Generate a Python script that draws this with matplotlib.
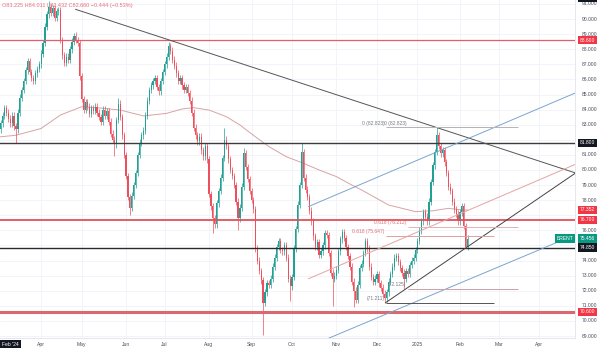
import pandas as pd
import matplotlib
matplotlib.use("Agg")
import matplotlib.pyplot as plt

# daily closes, 29 Feb 2024 .. 7 Feb 2025
closes = [
    83.1, 83.6, 84.1, 83.8, 83.4, 83.1, 83.6, 82.9, 82.7, 83.8,
    84.8, 85.3, 85.9, 86.6, 87.2, 86.5, 86.1, 85.9, 86.4, 86.7,
    87.0, 87.7, 88.4, 89.5, 90.3, 90.8, 90.4, 90.7, 90.1, 90.5,
    90.6, 88.6, 87.6, 87.1, 87.5, 87.3, 88.0, 88.5, 88.9, 88.6,
    88.4, 86.2, 84.7, 84.0, 84.5, 84.2, 83.7, 84.1, 83.9, 84.2,
    83.8, 83.5, 83.2, 84.0, 83.6, 83.9, 83.2, 82.4, 82.0, 81.7,
    83.3, 84.4, 83.5, 82.3, 81.0, 79.6, 78.2, 77.5, 78.3, 79.0,
    79.8, 81.0, 81.8, 82.3, 82.6, 83.6, 84.6, 85.3, 85.6, 85.9,
    86.1, 85.5, 85.2, 85.9, 86.5, 87.0, 87.5, 88.2, 87.9, 87.3,
    86.9, 86.4, 85.9, 86.1, 85.6, 85.3, 85.5, 85.1, 84.6, 83.8,
    82.8, 82.3, 81.9, 82.2, 81.3, 80.9, 81.6, 80.7, 78.4, 77.6,
    76.8, 76.4, 77.8, 78.6, 79.5, 80.8, 82.0, 81.6, 80.7, 80.0,
    79.6, 79.0, 77.9, 76.8, 77.5, 78.9, 81.1, 80.2, 79.4, 78.6,
    78.0, 77.4, 74.8, 74.0, 73.3, 72.7, 71.2, 71.9, 72.5, 72.4,
    72.8, 73.6, 74.2, 74.9, 75.3, 74.7, 74.6, 75.0, 74.2, 72.8,
    72.3, 72.9, 74.8, 76.1, 77.7, 79.0, 81.2, 79.5, 78.7, 78.2,
    77.3, 76.6, 75.6, 74.9, 75.2, 74.4, 74.6, 75.0, 75.8, 75.7,
    74.5, 73.2, 72.8, 73.0, 73.4, 74.6, 75.4, 75.9, 75.5, 74.9,
    74.3, 73.6, 72.6, 72.0, 71.4, 72.4, 73.5, 73.8, 74.5, 75.3,
    74.8, 73.6, 72.9, 72.6, 72.8, 73.1, 72.5, 72.2, 71.8, 71.5,
    71.9, 72.6, 73.1, 73.6, 74.2, 74.3, 73.9, 73.5, 73.2, 72.8,
    73.3, 73.1, 73.7, 74.0, 74.2, 74.7, 75.3, 76.0, 76.6, 77.2,
    76.9, 76.6, 77.9, 79.2, 80.3, 81.2, 82.3, 81.6, 81.1, 81.3,
    80.5, 79.8, 78.9, 78.6, 77.9, 77.4, 77.1, 76.6, 77.2, 77.6,
    76.3, 74.9, 75.456,
]
first_open = 82.7
wick = 0.22
low_marks = {8: 81.8, 59: 80.9, 67: 77.0, 110: 75.8, 123: 76.0, 136: 69.1,
             150: 71.3, 172: 71.0, 183: 70.9, 199: 71.211, 209: 72.125, 241: 74.8}
high_marks = {25: 91.2, 38: 89.1, 61: 84.8, 87: 88.5, 116: 82.8, 126: 81.45,
              156: 81.8, 226: 82.823}

holidays = pd.to_datetime(["2024-03-29", "2024-04-01", "2024-12-25", "2025-01-01"])
days = pd.bdate_range("2024-02-29", "2025-04-30")
days = days[~days.isin(holidays)]

# 200-day average (bar index, value)
ma_x = [0, 8, 21, 31, 42, 52, 62, 74, 86, 94, 100, 108, 117, 124, 132, 139,
        148, 157, 165, 174, 182, 187, 201, 215, 224, 232, 239, 242]
ma_y = [82.2, 82.3, 82.75, 83.64, 84.19, 84.1, 83.97, 83.58, 83.75, 84.04,
        84.13, 83.97, 83.53, 82.98, 82.2, 81.55, 80.88, 80.44, 80.0, 79.56,
        79.0, 78.68, 77.68, 77.24, 77.3, 77.46, 77.35, 77.35]

levels = [88.6, 81.8, 76.7, 74.85, 70.6]
level_colors = ["#e35d6a", "#3c3c3c", "#e0505a", "#2a2a2a", "#d9686f"]
level_widths = [0.9, 1.0, 1.3, 1.0, 2.2]

# trend lines: (x0, p0, x1, p1)
trend_lines = [
    (38.9, 90.64, 297.9, 79.8),
    (199.5, 71.211, 297.9, 79.8),
    (159.6, 77.58, 299.0, 85.17),
    (165.8, 68.63, 299.0, 75.78),
    (159.6, 72.8, 299.0, 80.44),
]
trend_colors = ["#555555", "#444444", "#7ba4d0", "#7ba4d0", "#e6a3a3"]

# fib retracements
fib_a_span = (210.9, 267.9)
fib_a_levels = [82.823, 76.212, 72.125]
fib_a_text = ["0 (82.823)", "0.618 (76.212)", "(72.125)"]
fib_a_colors = ["#b9b2b5", "#e2b3b3", "#caa1a4"]
fib_b_span = (199.5, 255.4)
fib_b_levels = [82.823, 75.647, 71.211]
fib_b_text = ["0 (82.823)", "0.618 (75.647)", "(71.211)"]
fib_b_colors = ["#b9b2b5", "#e2a0a0", "#555555"]

price_tags = [(91.38, "91.225", "#131722"), (88.6, "88.600", "#f23645"),
              (81.8, "81.800", "#131722"), (77.352, "77.352", "#f23645"),
              (76.7, "76.700", "#f23645"), (75.456, "75.456", "#089981"),
              (74.85, "74.850", "#131722"), (70.6, "70.600", "#f23645")]
axis_prices = list(range(69, 92))

UP, DOWN = "#22a094", "#ee4f5c"
FONT = "Liberation Sans"
FS = 3.6

fig = plt.figure(figsize=(6, 3.51), dpi=100)
ax = fig.add_axes([0, 13 / 351, 575 / 600, 338 / 351])
ax.set_xlim(-0.3, 297.6)
ax.set_ylim(68.87, 91.26)

# grid
for p in axis_prices:
    ax.axhline(p, color="#f0f3fa", lw=0.6, zorder=0)
month_pos, month_lab = [], []
for m in pd.period_range("2024-04", "2025-04", freq="M"):
    idx = [i for i, d in enumerate(days) if d.year == m.year and d.month == m.month][0]
    month_pos.append(idx)
    month_lab.append(str(m.year) if m.month == 1 else m.strftime("%b"))
for xp in month_pos:
    ax.axvline(xp, color="#f0f3fa", lw=0.6, zorder=0)

# candles
opens = [first_open] + closes[:-1]
for i, (o, c) in enumerate(zip(opens, closes)):
    col = UP if c >= o else DOWN
    hi = high_marks.get(i, max(o, c) + wick)
    lo = low_marks.get(i, min(o, c) - wick)
    ax.vlines(i, lo, hi, color=col, lw=0.5, zorder=3)
    ax.bar(i, max(abs(c - o), 0.05), bottom=min(o, c), width=0.62,
           color=col, lw=0, zorder=3)

ax.plot(ma_x, ma_y, color="#d9a3a3", lw=0.7, zorder=2)

for p, col, lw in zip(levels, level_colors, level_widths):
    ax.axhline(p, color=col, lw=lw, zorder=4)

for (x0, p0, x1, p1), col in zip(trend_lines, trend_colors):
    ax.plot([x0, x1], [p0, p1], color=col, lw=0.7, zorder=4)

for span, lv, txt, cols in [(fib_a_span, fib_a_levels, fib_a_text, fib_a_colors),
                            (fib_b_span, fib_b_levels, fib_b_text, fib_b_colors)]:
    for p, t, col in zip(lv, txt, cols):
        ax.hlines(p, span[0], span[1], color=col, lw=0.7, zorder=4)
        tcol = "#787b86" if col in ("#b9b2b5", "#555555", "#caa1a4") else "#e06c75"
        ax.text(span[0] - 0.6, p + 0.12, t, ha="right", va="bottom",
                fontsize=FS, color=tcol, family=FONT, zorder=5)

ax.set_xticks([])
ax.set_yticks([])
for s in ["top", "left"]:
    ax.spines[s].set_visible(False)
for s in ["bottom", "right"]:
    ax.spines[s].set_color("#e0e3eb")
    ax.spines[s].set_linewidth(0.6)

ytr = ax.get_yaxis_transform()
tag_prices = [t[0] for t in price_tags]
for p in axis_prices:
    # the scale hides labels that sit under a price tag
    if any(abs(p - tp) < 0.36 for tp in tag_prices):
        continue
    ax.text(1.011, p, f"{p:.3f}", transform=ytr, ha="left", va="center",
            fontsize=FS, color="#4a4e5a", family=FONT, clip_on=False)
for p, t, col in price_tags:
    ax.text(1.009, p, t, transform=ytr, ha="left", va="center", fontsize=FS,
            color="white", family=FONT, clip_on=False, zorder=10,
            bbox=dict(boxstyle="square,pad=0.35", fc=col, ec="none"))
ax.text(0.997, 75.456, "BRENT", transform=ytr, ha="right", va="center",
        fontsize=FS, color="white", family=FONT, zorder=10,
        bbox=dict(boxstyle="square,pad=0.35", fc="#089981", ec="none"))

xtr = ax.get_xaxis_transform()
for xp, lab in zip(month_pos, month_lab):
    ax.text(xp, -0.018, lab, transform=xtr, ha="center", va="center",
            fontsize=FS, color="#4a4e5a", family=FONT, clip_on=False)
fig.text(2 / 600, 1 - 344 / 351, "Feb '24", ha="left", va="center", fontsize=FS,
         color="white", family=FONT,
         bbox=dict(boxstyle="square,pad=0.35", fc="#131722", ec="none"))

fig.text(2 / 600, 1 - 5 / 351, "O83.225 H84.011 L82.432 C82.660 \u22120.444 (\u22120.53%)",
         ha="left", va="center", fontsize=FS + 0.4, color="#e8707a", family=FONT)

fig.savefig("out.png", dpi=100, facecolor="white")
